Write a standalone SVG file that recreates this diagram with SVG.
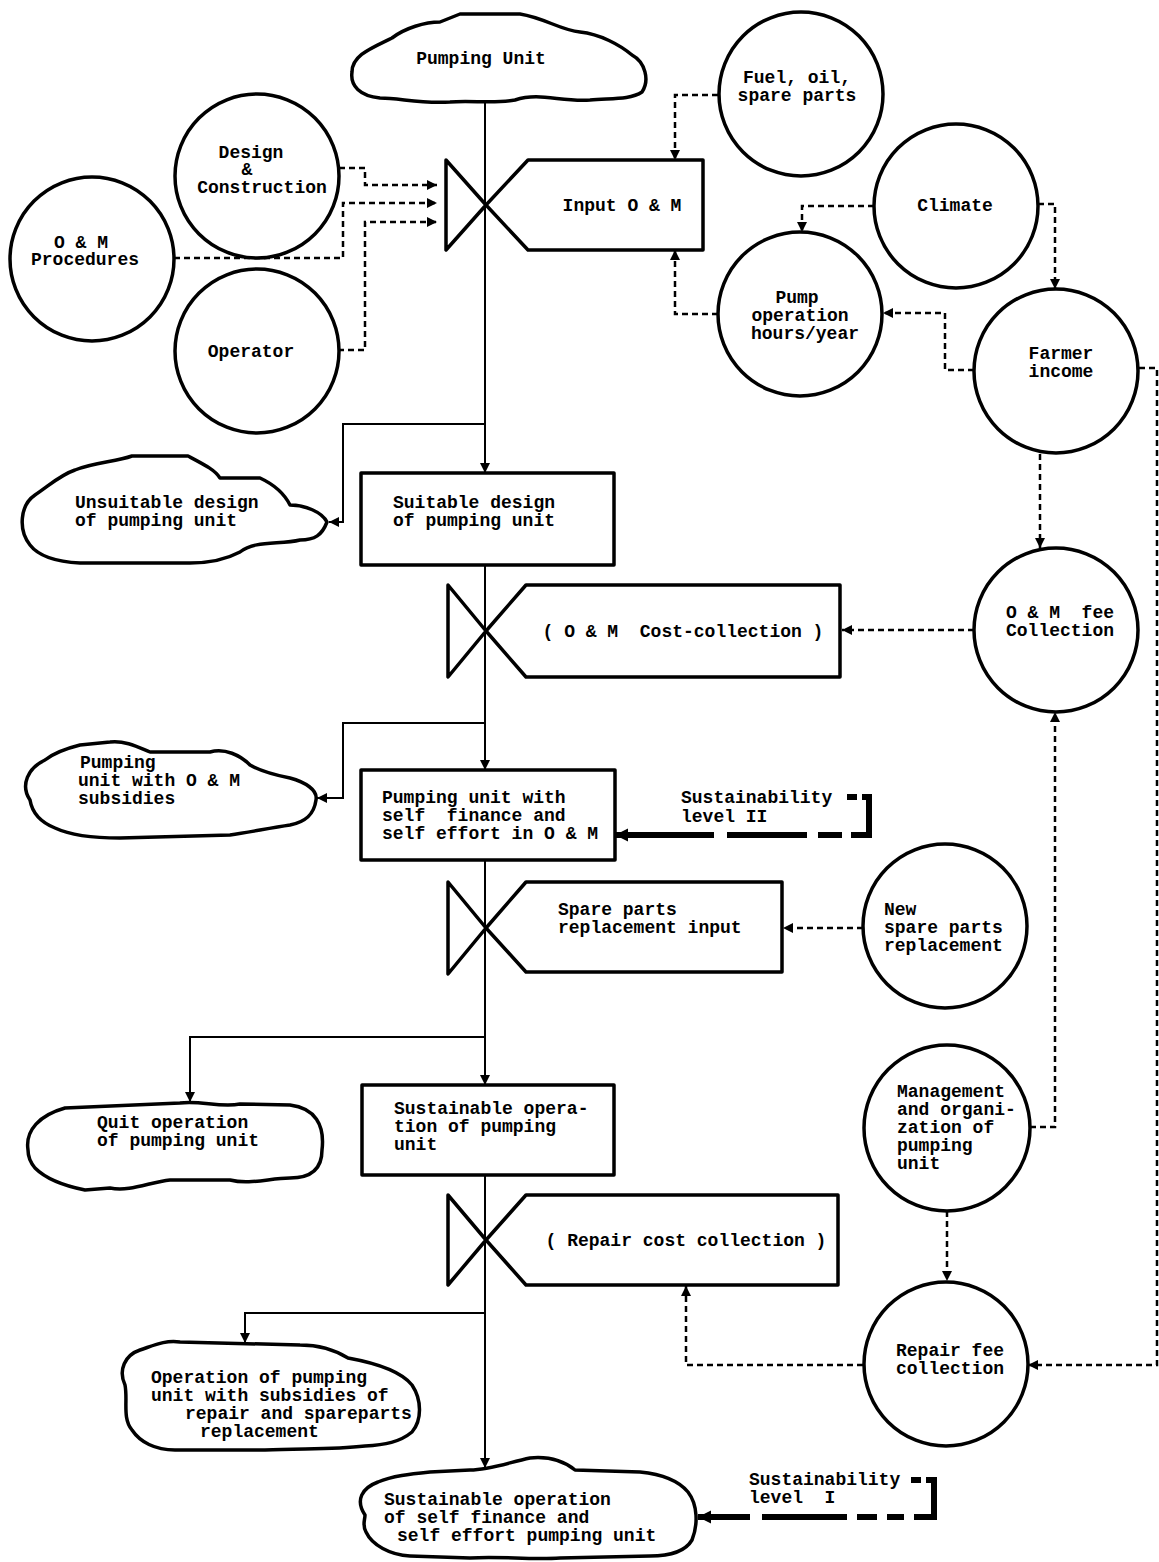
<svg xmlns="http://www.w3.org/2000/svg" width="1159" height="1562" viewBox="0 0 1159 1562">
<style>
.t{font-family:"Liberation Mono","DejaVu Sans Mono",monospace;font-weight:bold;font-size:18px;fill:#000;white-space:pre}
.m{text-anchor:middle}
.s{fill:#fff;stroke:#000;stroke-width:3.5;stroke-linejoin:round}
.c{fill:#fff;stroke:#000;stroke-width:3.5}
.ln{fill:none;stroke:#000;stroke-width:2}
.da{fill:none;stroke:#000;stroke-width:2.5;stroke-dasharray:6 4}
.th{fill:none;stroke:#000;stroke-width:6}
</style>
<defs>
<marker id="ah" viewBox="0 0 10 10" refX="10" refY="5" markerWidth="11" markerHeight="10" markerUnits="userSpaceOnUse" orient="auto"><path d="M0,0 L10,5 L0,10 z" fill="#000"/></marker>
<marker id="ahb" viewBox="0 0 10 10" refX="10" refY="5" markerWidth="13" markerHeight="14" markerUnits="userSpaceOnUse" orient="auto"><path d="M0,0 L10,5 L0,10 z" fill="#000"/></marker>
</defs>
<rect width="1159" height="1562" fill="#fff"/>

<g id="connectors">
<path class="ln" d="M485,102 V473" marker-end="url(#ah)"/>
<path class="ln" d="M485,565 V770" marker-end="url(#ah)"/>
<path class="ln" d="M485,860 V1085" marker-end="url(#ah)"/>
<path class="ln" d="M485,1175 V1468" marker-end="url(#ah)"/>
<path class="ln" d="M485,424 H343 V522 H329" marker-end="url(#ah)"/>
<path class="ln" d="M485,723 H343 V798 H317" marker-end="url(#ah)"/>
<path class="ln" d="M485,1037 H190 V1102" marker-end="url(#ah)"/>
<path class="ln" d="M485,1313 H245 V1343" marker-end="url(#ah)"/>
<path class="da" d="M339,168 H365 V185 H437" marker-end="url(#ah)"/>
<path class="da" d="M174,258 H343 V203 H437" marker-end="url(#ah)"/>
<path class="da" d="M338,350 H365 V222 H437" marker-end="url(#ah)"/>
<path class="da" d="M718,95 H675 V160" marker-end="url(#ah)"/>
<path class="da" d="M718,314 H675 V250" marker-end="url(#ah)"/>
<path class="da" d="M874,206 H802 V232" marker-end="url(#ah)"/>
<path class="da" d="M1038,204 H1055 V289" marker-end="url(#ah)"/>
<path class="da" d="M974,370 H945 V313 H883" marker-end="url(#ah)"/>
<path class="da" d="M1040,454 V548" marker-end="url(#ah)"/>
<path class="da" d="M974,630 H842" marker-end="url(#ah)"/>
<path class="da" d="M1030,1127 H1055 V712" marker-end="url(#ah)"/>
<path class="da" d="M863,928 H783" marker-end="url(#ah)"/>
<path class="da" d="M947,1211 V1281" marker-end="url(#ah)"/>
<path class="da" d="M863,1365 H686 V1286" marker-end="url(#ah)"/>
<path class="da" d="M1139,368 H1157 V1365 H1028" marker-end="url(#ah)"/>
<path class="th" d="M847,797 H857 M862,797 H869 V838"/>
<path class="th" d="M869,835 H615" stroke-dasharray="18 9 24 11 80 13 300" marker-end="url(#ahb)"/>
<path class="th" d="M911,1480 H921 M926,1480 H934 V1520"/>
<path class="th" d="M934,1517 H698" stroke-dasharray="20 10 17 10 20 10 85 12 300" marker-end="url(#ahb)"/>
</g>

<g id="pumping-unit">
<path class="s" d="M352,72 C352,55 372,48 392,38 C405,28 425,22 440,22 L460,14 L520,14 C545,18 560,30 580,32 C600,34 620,45 632,55 C645,62 650,80 642,92 C630,100 610,98 590,100 C560,102 540,92 515,100 C495,104 470,100 450,102 C420,104 400,98 380,98 C360,96 350,86 352,72 Z"/>
<text class="t m" x="481" y="64">Pumping Unit</text>
</g>

<g id="input-om">
<path class="s" d="M446,160 L486,205 L446,250 Z"/>
<path class="s" d="M486,205 L528,160 H703 V250 H528 Z"/>
<line class="ln" x1="485" y1="158" x2="485" y2="252"/>
<text class="t m" x="622" y="211">Input O &amp; M</text>
</g>

<g id="fuel-oil">
<circle class="c" cx="801" cy="94" r="82"/>
<text class="t m" x="797" y="83">Fuel, oil,</text>
<text class="t m" x="797" y="101">spare parts</text>
</g>

<g id="design-construction">
<circle class="c" cx="257" cy="176" r="82"/>
<text class="t m" x="251" y="158">Design</text>
<text class="t m" x="247" y="175">&amp;</text>
<text class="t m" x="262" y="193">Construction</text>
</g>

<g id="om-procedures">
<circle class="c" cx="92" cy="259" r="82"/>
<text class="t m" x="81" y="248">O &amp; M</text>
<text class="t m" x="85" y="265">Procedures</text>
</g>

<g id="operator">
<circle class="c" cx="257" cy="351" r="82"/>
<text class="t m" x="251" y="357">Operator</text>
</g>

<g id="climate">
<circle class="c" cx="956" cy="206" r="82"/>
<text class="t m" x="955" y="211">Climate</text>
</g>

<g id="pump-operation">
<circle class="c" cx="800" cy="314" r="82"/>
<text class="t m" x="797" y="303">Pump</text>
<text class="t m" x="800" y="321">operation</text>
<text class="t m" x="805" y="339">hours/year</text>
</g>

<g id="farmer-income">
<circle class="c" cx="1056" cy="371" r="82"/>
<text class="t m" x="1061" y="359">Farmer</text>
<text class="t m" x="1061" y="377">income</text>
</g>

<g id="unsuitable-design">
<path class="s" d="M30,545 C18,530 20,505 35,495 C50,485 60,475 75,470 C95,462 115,462 132,456 L188,456 C205,465 215,470 220,478 L260,478 C275,485 285,495 290,505 C305,505 322,512 327,522 C322,535 315,540 300,540 C280,545 255,540 240,552 C225,560 210,563 190,563 L80,563 C60,562 40,558 30,545 Z"/>
<text class="t" x="75" y="508">Unsuitable design</text>
<text class="t" x="75" y="526">of pumping unit</text>
</g>

<g id="suitable-design">
<rect class="s" x="361" y="473" width="253" height="92"/>
<text class="t" x="393" y="508">Suitable design</text>
<text class="t" x="393" y="526">of pumping unit</text>
</g>

<g id="om-cost-collection">
<path class="s" d="M448,585 L486,631 L448,677 Z"/>
<path class="s" d="M486,631 L526,585 H840 V677 H526 Z"/>
<line class="ln" x1="485" y1="583" x2="485" y2="679"/>
<text class="t m" x="683" y="637">( O &amp; M  Cost-collection )</text>
</g>

<g id="om-fee-collection">
<circle class="c" cx="1056" cy="630" r="82"/>
<text class="t m" x="1060" y="618">O &amp; M  fee</text>
<text class="t m" x="1060" y="636">Collection</text>
</g>

<g id="om-subsidies">
<path class="s" d="M30,800 C20,785 28,768 45,760 C55,752 68,748 80,745 L110,742 C125,740 140,748 150,752 L210,752 C225,748 240,755 250,765 C262,772 275,775 290,778 C305,782 318,790 316,800 C314,815 305,822 290,825 C270,828 250,832 230,835 L120,838 C95,838 70,835 55,828 C40,822 32,812 30,800 Z"/>
<text class="t" x="80" y="768">Pumping</text>
<text class="t" x="78" y="786">unit with O &amp; M</text>
<text class="t" x="78" y="804">subsidies</text>
</g>

<g id="self-finance-om">
<rect class="s" x="361" y="770" width="254" height="90"/>
<text class="t" x="382" y="803">Pumping unit with</text>
<text class="t" x="382" y="821">self  finance and</text>
<text class="t" x="382" y="839">self effort in O &amp; M</text>
</g>

<g id="sustainability-2">
<text class="t" x="681" y="803">Sustainability</text>
<text class="t" x="681" y="822">level II</text>
</g>

<g id="spare-parts-input">
<path class="s" d="M448,882 L486,928 L448,974 Z"/>
<path class="s" d="M486,928 L526,882 H782 V972 H526 Z"/>
<line class="ln" x1="485" y1="880" x2="485" y2="976"/>
<text class="t" x="558" y="915">Spare parts</text>
<text class="t" x="558" y="933">replacement input</text>
</g>

<g id="new-spare-parts">
<circle class="c" cx="945" cy="926" r="82"/>
<text class="t" x="884" y="915">New</text>
<text class="t" x="884" y="933">spare parts</text>
<text class="t" x="884" y="951">replacement</text>
</g>

<g id="quit-operation">
<path class="s" d="M28,1150 C25,1130 40,1115 65,1108 L180,1103 C200,1100 220,1108 240,1104 L290,1105 C315,1108 325,1125 322,1150 C322,1170 310,1178 290,1178 C270,1178 250,1185 230,1180 L170,1180 C150,1182 130,1192 110,1188 L85,1190 C60,1185 45,1178 35,1168 C30,1162 28,1156 28,1150 Z"/>
<text class="t" x="97" y="1128">Quit operation</text>
<text class="t" x="97" y="1146">of pumping unit</text>
</g>

<g id="sustainable-operation">
<rect class="s" x="362" y="1085" width="252" height="90"/>
<text class="t" x="394" y="1114">Sustainable opera-</text>
<text class="t" x="394" y="1132">tion of pumping</text>
<text class="t" x="394" y="1150">unit</text>
</g>

<g id="management">
<circle class="c" cx="947" cy="1128" r="83"/>
<text class="t" x="897" y="1097">Management</text>
<text class="t" x="897" y="1115">and organi-</text>
<text class="t" x="897" y="1133">zation of</text>
<text class="t" x="897" y="1151">pumping</text>
<text class="t" x="897" y="1169">unit</text>
</g>

<g id="repair-cost-collection">
<path class="s" d="M448,1195 L486,1240 L448,1285 Z"/>
<path class="s" d="M486,1240 L526,1195 H838 V1285 H526 Z"/>
<line class="ln" x1="485" y1="1193" x2="485" y2="1287"/>
<text class="t m" x="686" y="1246">( Repair cost collection )</text>
</g>

<g id="repair-fee-collection">
<circle class="c" cx="946" cy="1364" r="82"/>
<text class="t m" x="950" y="1356">Repair fee</text>
<text class="t m" x="950" y="1374">collection</text>
</g>

<g id="repair-subsidies">
<path class="s" d="M125,1385 C118,1370 125,1355 140,1350 C155,1345 165,1340 180,1342 L300,1345 C320,1345 335,1350 348,1358 C370,1362 400,1370 412,1385 C422,1400 422,1420 412,1432 C400,1442 385,1445 365,1446 C330,1450 300,1448 265,1450 L175,1450 C155,1450 140,1442 132,1430 C122,1418 128,1400 125,1385 Z"/>
<text class="t" x="151" y="1383">Operation of pumping</text>
<text class="t" x="151" y="1401">unit with subsidies of</text>
<text class="t" x="185" y="1419">repair and spareparts</text>
<text class="t" x="200" y="1437">replacement</text>
</g>

<g id="sustainable-self-finance">
<path class="s" d="M365,1515 C355,1500 362,1488 378,1482 C392,1476 410,1474 430,1472 L470,1470 C490,1470 510,1462 530,1458 C550,1456 565,1462 575,1470 L640,1472 C660,1474 678,1480 688,1492 C698,1505 698,1525 692,1540 C685,1552 670,1556 650,1556 L560,1558 C530,1560 500,1556 470,1558 L410,1556 C390,1555 372,1545 366,1532 C362,1525 365,1520 365,1515 Z"/>
<text class="t" x="384" y="1505">Sustainable operation</text>
<text class="t" x="384" y="1523">of self finance and</text>
<text class="t" x="397" y="1541">self effort pumping unit</text>
</g>

<g id="sustainability-1">
<text class="t" x="749" y="1485">Sustainability</text>
<text class="t" x="749" y="1503">level  I</text>
</g>
</svg>
